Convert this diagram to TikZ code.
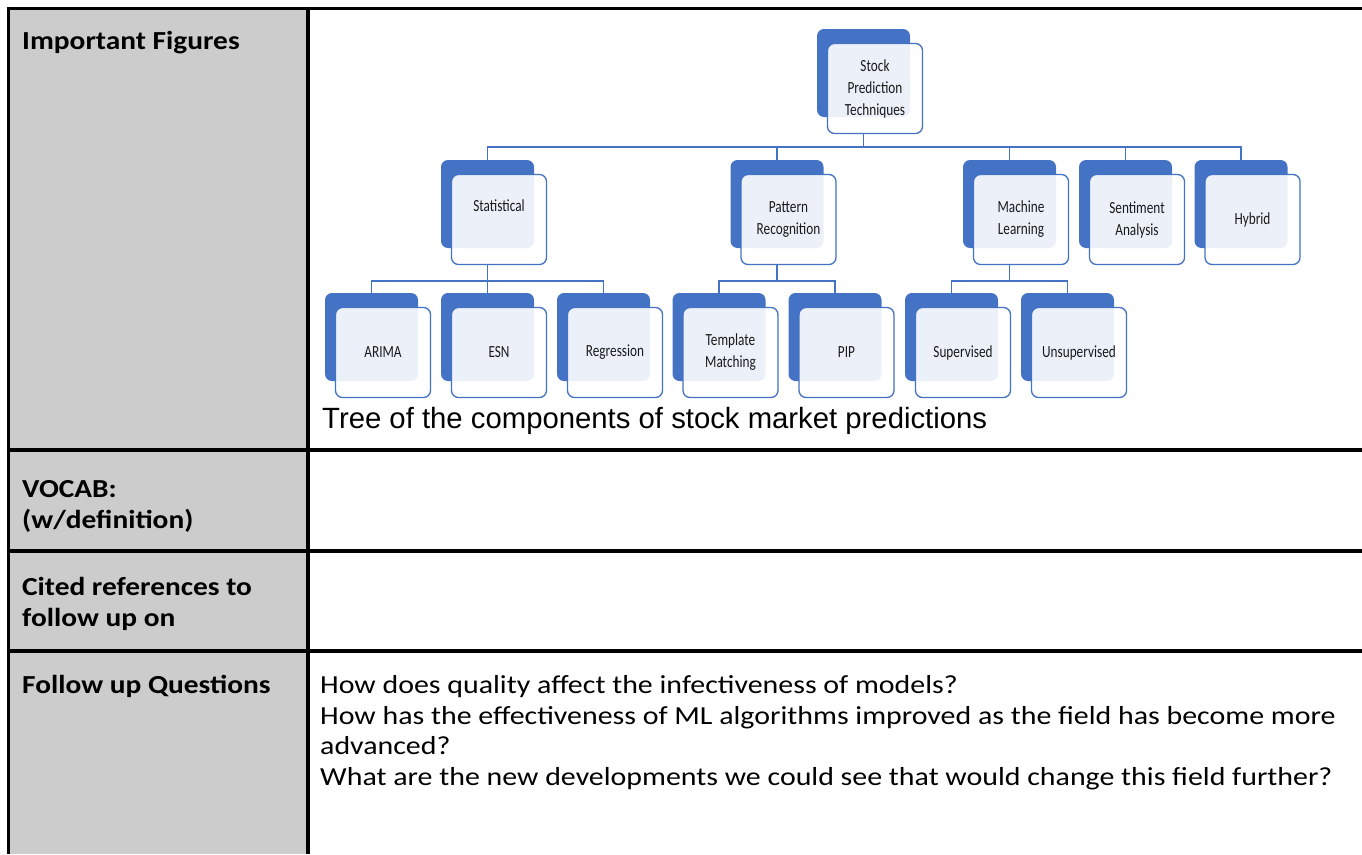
\documentclass[tikz,border=0pt]{standalone}
\usepackage{fontspec}
\setmainfont{Carlito}
\newfontfamily\treefont[FakeStretch=0.78]{Carlito}
\newfontfamily\headfont[FakeStretch=1.13]{Carlito}
\newfontfamily\bodyfont[FakeStretch=1.15]{Carlito}
\newfontfamily\capfont{Liberation Sans}

\definecolor{accent}{HTML}{4472C4}
\definecolor{cellgrey}{HTML}{CCCCCC}
\definecolor{ink}{HTML}{1A1A1A}

\pgfdeclarelayer{grid}
\pgfdeclarelayer{wires}
\pgfsetlayers{grid,wires,main}

\tikzset{
  backbox/.style={fill=accent, draw=none, rounded corners=7pt,
    minimum width=93pt, minimum height=88pt, inner sep=0pt},
  frontbox/.style={fill=white, fill opacity=0.9, text opacity=1,
    draw=accent, line width=1.3pt, rounded corners=7pt,
    minimum width=95pt, minimum height=90pt, inner sep=0pt,
    align=center, text=ink, font=\treefont\fontsize{17}{22}\selectfont},
  wire/.style={draw=accent, line width=1.2pt},
  rule/.style={draw=black, line width=3.5pt},
  rowhead/.style={anchor=north west, inner sep=0pt, align=left,
    font=\headfont\bfseries\fontsize{26}{31}\selectfont},
  bodytext/.style={anchor=north west, inner sep=0pt, align=left,
    font=\bodyfont\fontsize{26}{30.5}\selectfont},
}

% two-layer box: #1 name, #2 left x, #3 top y, #4 text
\newcommand\treebox[4]{%
  \node[backbox] (#1-b) at (#2+46.5, #3+44) {};
  \node[frontbox] (#1) at (#2+58, #3+59.5) {#4};
}

\begin{document}
\begin{tikzpicture}[x=1pt, y=-1pt]
\useasboundingbox (0,0) rectangle (1362,854);

% table: grey header column and black rules
\begin{pgfonlayer}{grid}
  \fill[white] (0,0) rectangle (1362,854);
  \fill[cellgrey] (9.5,10) rectangle (306,854);
  \draw[rule] (6.5,8.5) -- (1362,8.5);
  \draw[rule] (6.5,450) -- (1362,450);
  \draw[rule] (6.5,551) -- (1362,551);
  \draw[rule] (6.5,651) -- (1362,651);
  \draw[rule] (8.3,6.75) -- (8.3,854);
  \draw[rule] (308,6.75) -- (308,854);
\end{pgfonlayer}

% row headings
\node[rowhead] (hFig) at (22,28) {\strut Important Figures};
\node[rowhead] (hVocab) at (22,475.3) {\strut VOCAB:\\\strut (w/definition)};
\node[rowhead] (hCited) at (22,573.3) {\strut Cited references to\\\strut follow up on};
\node[rowhead] (hQuest) at (22,671.3) {\strut Follow up Questions};

% questions
\node[bodytext] (quest) at (320,672) {\strut How does quality affect the infectiveness of models?\\
\strut How has the effectiveness of ML algorithms improved as the field has become more\\
\strut advanced?\\
\strut What are the new developments we could see that would change this field further?};

% tree of techniques
\treebox{root}{817}{29}{Stock\\Prediction\\Techniques}
\treebox{stat}{441}{160}{Statistical\\\strut}
\treebox{patt}{730.5}{160}{Pattern\\Recognition}
\treebox{ml}{963}{160}{Machine\\Learning}
\treebox{sent}{1079}{160}{Sentiment\\Analysis}
\treebox{hyb}{1194.5}{160}{Hybrid}
\treebox{arima}{325}{293}{ARIMA}
\treebox{esn}{441}{293}{ESN}
\treebox{regr}{557}{293}{Regression}
\treebox{tmpl}{672.5}{293}{Template\\Matching}
\treebox{pip}{788.5}{293}{PIP}
\treebox{sup}{905}{293}{Supervised}
\treebox{unsup}{1021}{293}{Unsupervised}

\coordinate (busA) at (0,147);
\coordinate (busB) at (0,281);

\begin{pgfonlayer}{wires}
  \foreach \c in {stat,patt,ml,sent,hyb}
    \draw[wire] (root-b.center |- root.south) -- (root-b.center |- busA) -| (\c-b.north);
  \foreach \c in {arima,esn,regr}
    \draw[wire] (stat-b.center |- stat.south) -- (stat-b.center |- busB) -| (\c-b.north);
  \foreach \c in {tmpl,pip}
    \draw[wire] (patt-b.center |- patt.south) -- (patt-b.center |- busB) -| (\c-b.north);
  \foreach \c in {sup,unsup}
    \draw[wire] (ml-b.center |- ml.south) -- (ml-b.center |- busB) -| (\c-b.north);
\end{pgfonlayer}

\node[anchor=base west, inner sep=0pt, font=\capfont\fontsize{29.3}{34}\selectfont] (caption) at (322,428)
  {Tree of the components of stock market predictions};
\end{tikzpicture}
\end{document}
